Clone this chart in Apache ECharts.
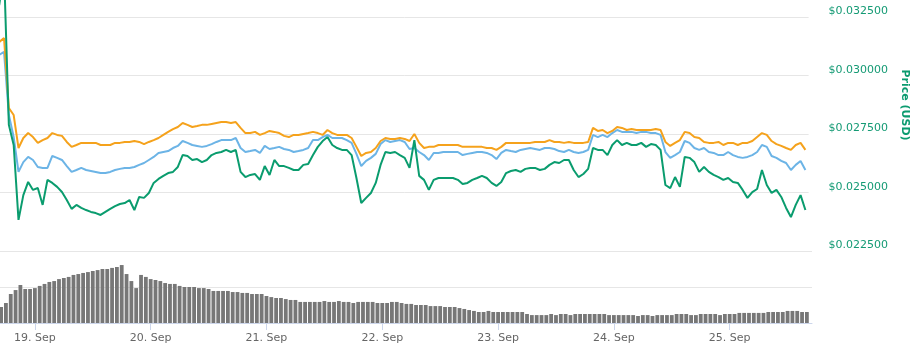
<!DOCTYPE html>
<html>
<head>
<meta charset="utf-8">
<script src="https://cdn.jsdelivr.net/npm/echarts@6/dist/echarts.min.js"></script>
<style>
html, body { margin: 0; padding: 0; background: #fff; }
#view { width: 918px; height: 352px; }
</style>
</head>
<body>
<div id="view"></div>
<script>
var myChart = echarts.init(document.getElementById('view'));

// hourly samples, first one at 18 Sep 17:00 UTC
var startTime = Date.UTC(2018, 8, 18, 17, 0);
var hourMs = 3600000;
var monthNames = ['Jan', 'Feb', 'Mar', 'Apr', 'May', 'Jun', 'Jul', 'Aug', 'Sep', 'Oct', 'Nov', 'Dec'];
var priceTicks = [0.0225, 0.0250, 0.0275, 0.0300, 0.0325];

// price in USD (green line, right axis)
var priceUsd = [
0.03301,0.03451,0.02789,0.02703,0.02383,0.02489,0.02545,0.02511,0.02519,0.02447,
0.02554,0.02541,0.02524,0.02502,0.02468,0.02430,0.02447,0.02434,0.02425,0.02417,
0.02412,0.02404,0.02417,0.02430,0.02442,0.02451,0.02455,0.02468,0.02425,0.02481,
0.02477,0.02498,0.02541,0.02558,0.02571,0.02583,0.02588,0.02609,0.02660,0.02656,
0.02639,0.02643,0.02630,0.02639,0.02660,0.02669,0.02673,0.02682,0.02673,0.02682,
0.02588,0.02566,0.02575,0.02579,0.02554,0.02613,0.02575,0.02639,0.02613,0.02613,
0.02605,0.02596,0.02596,0.02618,0.02622,0.02660,0.02695,0.02720,0.02737,0.02703,
0.02690,0.02682,0.02682,0.02660,0.02562,0.02455,0.02477,0.02498,0.02541,0.02618,
0.02673,0.02669,0.02673,0.02660,0.02648,0.02605,0.02724,0.02571,0.02554,0.02511,
0.02554,0.02562,0.02562,0.02562,0.02562,0.02554,0.02536,0.02541,0.02554,0.02562,
0.02571,0.02562,0.02541,0.02528,0.02545,0.02583,0.02592,0.02596,0.02588,0.02601,
0.02605,0.02605,0.02596,0.02601,0.02618,0.02630,0.02626,0.02639,0.02639,0.02596,
0.02566,0.02579,0.02601,0.02690,0.02682,0.02682,0.02660,0.02703,0.02724,0.02703,
0.02712,0.02703,0.02703,0.02712,0.02695,0.02707,0.02703,0.02682,0.02532,0.02519,
0.02566,0.02524,0.02652,0.02648,0.02630,0.02588,0.02609,0.02588,0.02575,0.02566,
0.02554,0.02562,0.02545,0.02541,0.02511,0.02477,0.02502,0.02515,0.02596,0.02532,
0.02498,0.02511,0.02481,0.02434,0.02395,0.02447,0.02489,0.02425
];

// orange line, drawn on the price scale
var btcLine = [
0.03143,0.03160,0.02861,0.02831,0.02690,0.02733,0.02754,0.02737,0.02712,0.02724,
0.02733,0.02754,0.02746,0.02742,0.02716,0.02695,0.02703,0.02712,0.02712,0.02712,
0.02712,0.02703,0.02703,0.02703,0.02712,0.02712,0.02716,0.02716,0.02720,0.02716,
0.02707,0.02716,0.02724,0.02733,0.02746,0.02759,0.02771,0.02780,0.02797,0.02789,
0.02780,0.02784,0.02789,0.02789,0.02793,0.02797,0.02801,0.02801,0.02797,0.02801,
0.02776,0.02754,0.02754,0.02759,0.02746,0.02754,0.02763,0.02759,0.02754,0.02742,
0.02737,0.02746,0.02746,0.02750,0.02754,0.02759,0.02754,0.02746,0.02767,0.02754,
0.02746,0.02746,0.02746,0.02733,0.02695,0.02656,0.02669,0.02673,0.02690,0.02720,
0.02733,0.02729,0.02729,0.02733,0.02729,0.02720,0.02750,0.02712,0.02690,0.02695,
0.02695,0.02703,0.02703,0.02703,0.02703,0.02703,0.02695,0.02695,0.02695,0.02695,
0.02695,0.02690,0.02690,0.02682,0.02695,0.02712,0.02712,0.02712,0.02712,0.02712,
0.02712,0.02716,0.02716,0.02716,0.02724,0.02716,0.02716,0.02712,0.02716,0.02712,
0.02712,0.02712,0.02716,0.02776,0.02763,0.02767,0.02754,0.02763,0.02780,0.02776,
0.02767,0.02771,0.02767,0.02767,0.02767,0.02767,0.02771,0.02767,0.02716,0.02699,
0.02712,0.02724,0.02759,0.02754,0.02737,0.02733,0.02716,0.02712,0.02712,0.02716,
0.02703,0.02712,0.02712,0.02703,0.02712,0.02712,0.02720,0.02737,0.02754,0.02746,
0.02720,0.02707,0.02699,0.02690,0.02682,0.02703,0.02712,0.02682
];

// light blue line, drawn on the price scale
var capLine = [
0.03088,0.03101,0.02831,0.02737,0.02588,0.02630,0.02652,0.02639,0.02609,0.02605,
0.02605,0.02656,0.02648,0.02639,0.02613,0.02588,0.02596,0.02605,0.02596,0.02592,
0.02588,0.02583,0.02583,0.02588,0.02596,0.02601,0.02605,0.02605,0.02609,0.02618,
0.02626,0.02639,0.02652,0.02669,0.02673,0.02677,0.02690,0.02699,0.02720,0.02712,
0.02703,0.02699,0.02695,0.02699,0.02707,0.02716,0.02724,0.02724,0.02724,0.02733,
0.02690,0.02673,0.02677,0.02682,0.02669,0.02699,0.02686,0.02690,0.02695,0.02686,
0.02682,0.02673,0.02677,0.02682,0.02690,0.02724,0.02724,0.02737,0.02746,0.02733,
0.02733,0.02733,0.02724,0.02712,0.02665,0.02613,0.02635,0.02648,0.02665,0.02707,
0.02724,0.02716,0.02720,0.02724,0.02716,0.02686,0.02690,0.02673,0.02660,0.02639,
0.02669,0.02669,0.02673,0.02673,0.02673,0.02673,0.02660,0.02665,0.02669,0.02673,
0.02673,0.02669,0.02660,0.02643,0.02669,0.02682,0.02677,0.02673,0.02682,0.02686,
0.02690,0.02686,0.02682,0.02690,0.02690,0.02686,0.02677,0.02673,0.02682,0.02673,
0.02669,0.02673,0.02682,0.02746,0.02737,0.02746,0.02737,0.02754,0.02767,0.02759,
0.02759,0.02759,0.02754,0.02759,0.02759,0.02754,0.02754,0.02746,0.02673,0.02648,
0.02660,0.02673,0.02720,0.02712,0.02690,0.02682,0.02690,0.02673,0.02669,0.02660,
0.02660,0.02673,0.02660,0.02652,0.02648,0.02652,0.02660,0.02673,0.02703,0.02695,
0.02656,0.02648,0.02635,0.02626,0.02596,0.02618,0.02635,0.02596
];

// 24h volume, relative units (panel top = 4)
var volume = [
0.89,1.11,1.61,1.83,2.11,1.89,1.89,1.94,2.06,2.17,
2.28,2.33,2.44,2.50,2.56,2.67,2.72,2.78,2.83,2.89,
2.94,3.00,3.00,3.06,3.11,3.22,2.72,2.33,1.94,2.67,
2.56,2.44,2.39,2.33,2.22,2.17,2.17,2.06,2.00,2.00,
2.00,1.94,1.94,1.89,1.78,1.78,1.78,1.78,1.72,1.72,
1.67,1.67,1.61,1.61,1.61,1.50,1.44,1.39,1.39,1.33,
1.28,1.28,1.17,1.17,1.17,1.17,1.17,1.22,1.17,1.17,
1.22,1.17,1.17,1.11,1.17,1.17,1.17,1.17,1.11,1.11,
1.11,1.17,1.17,1.11,1.06,1.06,1.00,1.00,1.00,0.94,
0.94,0.94,0.89,0.89,0.89,0.83,0.78,0.72,0.67,0.61,
0.61,0.67,0.61,0.61,0.61,0.61,0.61,0.61,0.61,0.50,
0.44,0.44,0.44,0.44,0.50,0.44,0.50,0.50,0.44,0.50,
0.50,0.50,0.50,0.50,0.50,0.50,0.44,0.44,0.44,0.44,
0.44,0.44,0.39,0.44,0.44,0.39,0.44,0.44,0.44,0.44,
0.50,0.50,0.50,0.44,0.44,0.50,0.50,0.50,0.50,0.44,
0.50,0.50,0.50,0.56,0.56,0.56,0.56,0.56,0.56,0.61,
0.61,0.61,0.61,0.67,0.67,0.67,0.61,0.61
];

function pairs(arr) {
    var out = [];
    for (var i = 0; i < arr.length; i++) {
        out.push([startTime + i * hourMs, arr[i]]);
    }
    return out;
}

var xMin = startTime + 10 * 60000;
var xMax = startTime + 167.5 * hourMs + 10 * 60000;
var font = 'DejaVu Sans, Verdana, sans-serif';
var gridColor = '#e6e6e6';

var option = {
    animation: false,
    useUTC: true,
    textStyle: { fontFamily: font },
    grid: [
        { left: 0, right: 106, top: 17, height: 234 },
        { left: 0, right: 106, top: 251, height: 72 }
    ],
    xAxis: [
        { type: 'time', gridIndex: 0, min: xMin, max: xMax, show: false },
        {
            type: 'time',
            gridIndex: 1,
            min: xMin,
            max: xMax,
            minInterval: 86400000,
            maxInterval: 86400000,
            axisLine: { lineStyle: { color: '#ccd6eb', width: 1 } },
            axisTick: { length: 7, lineStyle: { color: '#ccd6eb' } },
            splitLine: { show: false },
            axisLabel: {
                color: '#666666',
                fontSize: 11,
                fontFamily: font,
                margin: 10,
                showMinLabel: false,
                showMaxLabel: false,
                formatter: function (v) {
                    var d = new Date(v);
                    return d.getUTCDate() + '. ' + monthNames[d.getUTCMonth()];
                }
            }
        }
    ],
    yAxis: [
        {
            type: 'value',
            gridIndex: 0,
            position: 'right',
            min: priceTicks[0],
            max: priceTicks[priceTicks.length - 1],
            interval: 0.0025,
            axisLine: { show: false },
            axisTick: { show: false },
            splitLine: { lineStyle: { color: gridColor, width: 1 } },
            axisLabel: {
                color: '#149a74',
                fontSize: 11,
                fontFamily: font,
                margin: 20,
                verticalAlign: 'bottom',
                lineHeight: 11,
                formatter: function (v) { return '$' + v.toFixed(6); }
            },
            name: 'Price (USD)',
            nameLocation: 'middle',
            nameRotate: -90,
            nameGap: 90,
            nameTextStyle: {
                color: '#0b9b6f',
                fontWeight: 'bold',
                fontSize: 11,
                fontFamily: font,
                padding: [0, 58, 0, 0]
            }
        },
        { type: 'value', gridIndex: 0, min: priceTicks[0], max: priceTicks[priceTicks.length - 1], show: false },
        { type: 'value', gridIndex: 0, min: priceTicks[0], max: priceTicks[priceTicks.length - 1], show: false },
        {
            type: 'value',
            gridIndex: 1,
            min: 0,
            max: 4,
            interval: 2,
            axisLine: { show: false },
            axisTick: { show: false },
            axisLabel: { show: false },
            splitLine: { lineStyle: { color: gridColor, width: 1 } }
        }
    ],
    series: [
        {
            name: 'Volume',
            type: 'bar',
            xAxisIndex: 1,
            yAxisIndex: 3,
            barWidth: 3.8,
            itemStyle: { color: '#777777' },
            data: pairs(volume)
        },
        {
            name: 'Market Cap',
            type: 'line',
            xAxisIndex: 0,
            yAxisIndex: 2,
            showSymbol: false,
            clip: false,
            lineStyle: { color: '#6cb4e6', width: 2 },
            itemStyle: { color: '#6cb4e6' },
            data: pairs(capLine)
        },
        {
            name: 'Price (BTC)',
            type: 'line',
            xAxisIndex: 0,
            yAxisIndex: 1,
            showSymbol: false,
            clip: false,
            lineStyle: { color: '#f5a21c', width: 2 },
            itemStyle: { color: '#f5a21c' },
            data: pairs(btcLine)
        },
        {
            name: 'Price (USD)',
            type: 'line',
            xAxisIndex: 0,
            yAxisIndex: 0,
            showSymbol: false,
            clip: false,
            lineStyle: { color: '#0a9c6e', width: 2 },
            itemStyle: { color: '#0a9c6e' },
            data: pairs(priceUsd)
        }
    ]
};

myChart.setOption(option);
</script>
</body>
</html>
